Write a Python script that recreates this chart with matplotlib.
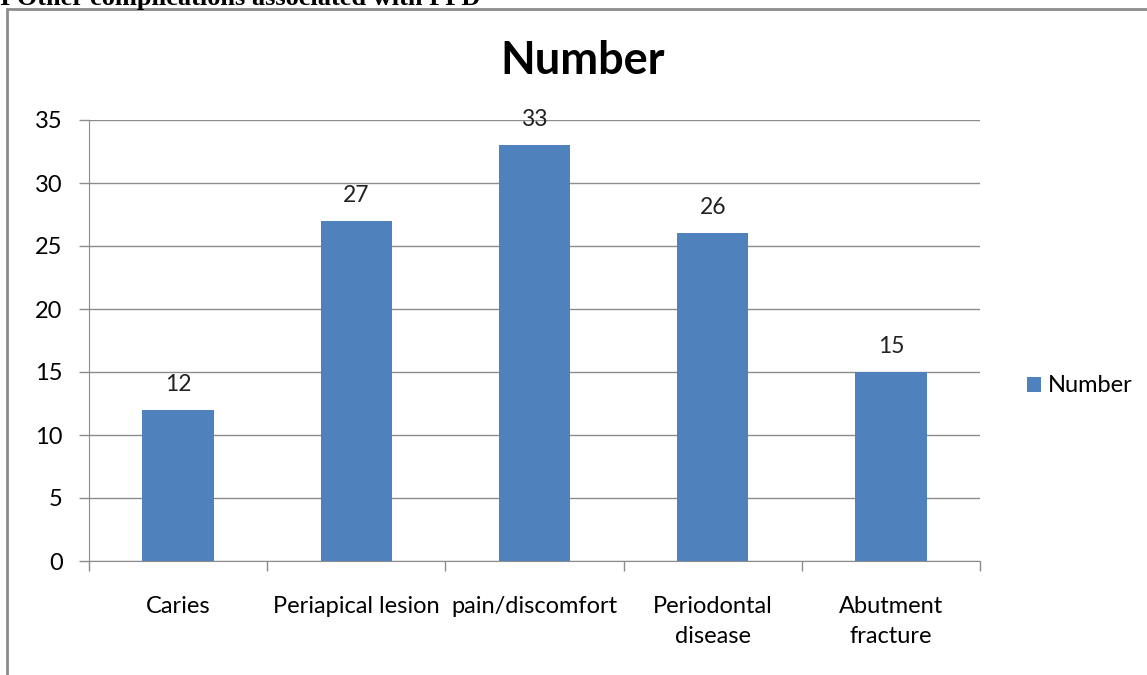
import matplotlib.pyplot as plt
import matplotlib.patches as patches
import numpy as np

categories = ["Caries", "Periapical lesion", "pain/discomfort", "Periodontal\ndisease", "Abutment\nfracture"]
values = [12, 27, 33, 26, 15]
yticks = [0, 5, 10, 15, 20, 25, 30, 35]

plt.rcParams['font.family'] = ['Lato', 'DejaVu Sans']

W, H = 1147, 675
fig = plt.figure(figsize=(W / 100, H / 100), dpi=100)

# outer chart frame (runs off right and bottom)
frame = patches.Rectangle((7 / W, -0.1), 1.2, 1 - 9 / H + 0.1, transform=fig.transFigure,
                          fill=False, edgecolor='#8c8c8c', linewidth=2, clip_on=False)
fig.add_artist(frame)

# caption from the page, clipped at the top like the source
fig.text(0.0, 1 - 5 / H, "I Other complications associated with FPD", family='Liberation Serif',
         fontweight='bold', fontsize=19, va='baseline', ha='left')

ax = fig.add_axes([89 / W, (H - 561) / H, (980 - 89) / W, (561 - 120) / H])

x = np.arange(len(values))
ax.bar(x, values, width=0.4, color='#4F81BD', label='Number', zorder=3)
for xi, v in zip(x, values):
    ax.text(xi, v + 1.2, str(v), ha='center', va='bottom', fontsize=16.5, color='#222222')

ax.set_xlim(-0.5, len(values) - 0.5)
ax.set_ylim(0, 35)
ax.set_yticks(yticks)
ax.set_yticklabels([str(t) for t in yticks], fontsize=17)
ax.yaxis.grid(True, color='#8c8c8c', linewidth=1)
ax.set_axisbelow(True)

ax.set_xticks(np.arange(len(values) + 1) - 0.5)
ax.set_xticklabels([])
ax.set_xticks(x, minor=True)
ax.set_xticklabels(categories, minor=True, fontsize=17, linespacing=1.55)
ax.tick_params(axis='x', which='minor', length=0, pad=25)
ax.tick_params(axis='x', which='major', length=7, color='#8c8c8c', width=1)
ax.tick_params(axis='y', length=7, color='#8c8c8c', width=1, pad=12)

for s in ['top', 'right']:
    ax.spines[s].set_visible(False)
for s in ['left', 'bottom']:
    ax.spines[s].set_color('#8c8c8c')

fig.text(583 / W, 1 - 61 / H, "Number", fontsize=32.5, fontweight='bold', ha='center', va='center')

ax.legend(loc='center left', bbox_to_anchor=(1.029, 0.397), frameon=False, fontsize=17,
          handlelength=0.6, handleheight=0.6, handletextpad=0.3)

fig.savefig("out.png", dpi=100)
